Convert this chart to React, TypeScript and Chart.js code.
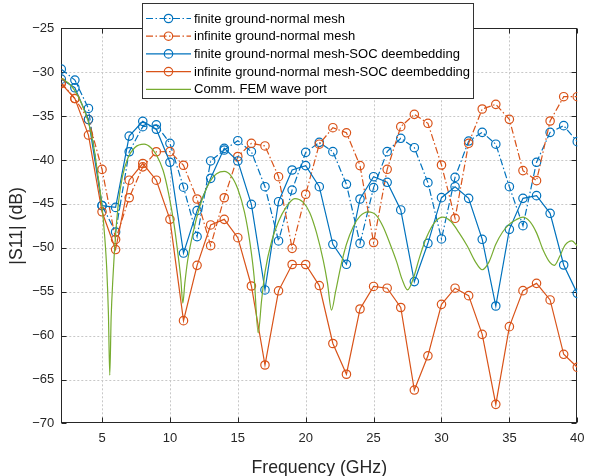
import { useEffect, useRef } from 'react';
import { Chart, registerables } from 'chart.js';

Chart.register(...registerables);

const freqs = [2, 3, 4, 5, 6, 7, 8, 9, 10, 11, 12, 13, 14, 15, 16, 17, 18, 19, 20, 21, 22, 23, 24, 25, 26, 27, 28, 29, 30, 31, 32, 33, 34, 35, 36, 37, 38, 39, 40];

const finiteNormal = [-29.65, -30.9, -34.13, -45.2, -48.2, -39.06, -36.2, -36.0, -38.1, -43.1, -48.73, -40.11, -38.86, -37.8, -39.05, -43.04, -49.22, -43.42, -39.13, -37.99, -39.05, -42.77, -49.49, -43.15, -39.05, -37.53, -38.6, -42.58, -48.99, -41.97, -37.84, -36.85, -38.2, -43.04, -47.48, -40.26, -36.85, -36.09, -37.91];

const infiniteNormal = [-31.2, -33.0, -35.4, -41.07, -49.05, -44.3, -40.78, -39.06, -39.05, -40.6, -44.44, -49.76, -44.3, -39.6, -38.1, -38.4, -41.9, -50.06, -43.9, -38.2, -36.32, -36.9, -40.64, -49.4, -41.06, -36.2, -34.8, -35.82, -40.57, -46.64, -38.1, -34.19, -33.66, -35.37, -41.21, -42.35, -35.56, -32.79, -32.79];

const finiteSOC = [-30.79, -31.77, -35.38, -45.2, -45.4, -37.28, -35.6, -36.5, -40.26, -50.6, -45.77, -42.09, -38.67, -40.11, -45.05, -54.8, -44.75, -41.14, -40.64, -43.04, -49.6, -51.88, -44.44, -41.9, -42.54, -45.69, -53.85, -49.49, -44.29, -43.04, -44.37, -49.03, -56.63, -47.9, -44.37, -44.06, -46.07, -51.96, -55.19];

const infiniteSOC = [-31.3, -33.0, -37.16, -45.9, -50.2, -42.3, -40.4, -42.3, -46.76, -58.3, -52.0, -47.4, -46.76, -48.85, -54.35, -63.35, -54.9, -51.9, -51.9, -54.3, -60.9, -64.4, -56.97, -54.4, -54.6, -56.8, -66.2, -62.3, -56.44, -54.6, -55.45, -59.86, -67.83, -58.98, -54.88, -54.05, -55.94, -62.13, -63.61];

const femFreq = [2.0, 2.5, 3.0, 3.5, 4.0, 4.4, 4.7, 5.0, 5.2, 5.35, 5.47, 5.57, 5.67, 5.8, 6.0, 6.2, 6.5, 6.9, 7.4, 8.1, 8.6, 9.0, 9.5, 9.9, 10.3, 10.6, 10.8, 10.95, 11.1, 11.3, 11.7, 12.2, 12.7, 13.2, 13.7, 14.0, 14.5, 15.0, 15.5, 15.9, 16.2, 16.5, 16.75, 17.0, 17.5, 18.0, 18.5, 19.2, 19.8, 20.3, 20.8, 21.3, 21.6, 21.9, 22.2, 22.6, 23.0, 23.5, 24.0, 24.6, 25.2, 25.7, 26.2, 26.7, 27.1, 27.5, 27.9, 28.4, 28.9, 29.5, 30.1, 30.7, 31.3, 31.9, 32.5, 33.0, 33.5, 34.0, 34.5, 35.0, 35.5, 36.0, 36.5, 37.0, 37.5, 38.0, 38.3, 38.7, 39.1, 39.6, 40.0];

const femS11 = [-30.7, -31.2, -32.1, -33.6, -35.7, -38.6, -41.8, -45.3, -48.8, -52.5, -57.5, -64.5, -58.0, -53.5, -48.5, -45.0, -41.9, -39.8, -38.6, -38.2, -38.6, -39.4, -41.2, -43.8, -47.3, -50.8, -53.5, -56.3, -54.0, -51.5, -48.3, -45.3, -43.2, -41.9, -41.35, -41.3, -41.8, -43.3, -46.0, -49.5, -53.3, -59.7, -56.0, -52.8, -49.2, -47.0, -45.5, -44.4, -44.8, -46.0, -48.3, -51.5, -54.0, -57.1, -55.0, -52.0, -49.6, -47.6, -46.4, -45.9, -46.3, -47.6, -49.5, -51.6, -53.6, -54.8, -53.6, -51.0, -48.8, -47.1, -46.5, -47.0, -48.3, -49.8, -51.6, -52.5, -51.6, -49.6, -48.2, -47.3, -46.8, -46.5, -47.0, -48.3, -50.3, -51.7, -52.0, -51.0, -49.7, -49.2, -49.8];

const xTicks = [5, 10, 15, 20, 25, 30, 35, 40];
const yTicks = [-70, -65, -60, -55, -50, -45, -40, -35, -30, -25];

const seriesLabels = [
  'finite ground-normal mesh',
  'infinite ground-normal mesh',
  'finite ground-normal mesh-SOC deembedding',
  'infinite ground-normal mesh-SOC deembedding',
  'Comm. FEM wave port',
];

const BLUE = '#0072BD';
const ORANGE = '#D95319';
const GREEN = '#77AC30';
const AXIS = '#262626';
const FONT = '"Liberation Sans", Arial, Helvetica, sans-serif';
const DASHDOT = [7, 2.5, 1.5, 2.5];

function markerSeries(label: string, values: number[], color: string, dashed: boolean, order: number) {
  return {
    label,
    data: freqs.map((f, i) => ({ x: f, y: values[i] })),
    borderColor: color,
    backgroundColor: color,
    borderWidth: 1.2,
    borderDash: dashed ? DASHDOT : [],
    pointStyle: 'circle',
    pointRadius: 4.2,
    pointBorderWidth: 1.2,
    pointBorderColor: color,
    pointBackgroundColor: 'rgba(0,0,0,0)',
    tension: 0,
    fill: false,
    order,
  };
}

const framePlugin = {
  id: 'matlabFrame',
  beforeDatasetsDraw(chart: any) {
    const { ctx, chartArea: a, scales } = chart;
    const x = scales.x;
    const y = scales.y;
    ctx.save();
    ctx.strokeStyle = '#c8c8c8';
    ctx.lineWidth = 1;
    ctx.setLineDash([2, 2]);
    for (const v of xTicks) {
      const px = Math.round(x.getPixelForValue(v)) + 0.5;
      if (px < a.right - 2) {
        ctx.beginPath();
        ctx.moveTo(px, a.top);
        ctx.lineTo(px, a.bottom);
        ctx.stroke();
      }
    }
    for (const v of yTicks) {
      const py = Math.round(y.getPixelForValue(v)) + 0.5;
      if (py > a.top + 2 && py < a.bottom - 2) {
        ctx.beginPath();
        ctx.moveTo(a.left, py);
        ctx.lineTo(a.right, py);
        ctx.stroke();
      }
    }
    ctx.setLineDash([]);
    ctx.strokeStyle = AXIS;
    const L = Math.round(a.left) + 0.5;
    const R = Math.round(a.right) - 0.5;
    const T = Math.round(a.top) + 0.5;
    const B = Math.round(a.bottom) - 0.5;
    ctx.strokeRect(L, T, R - L, B - T);
    const tl = 5;
    ctx.beginPath();
    for (const v of xTicks) {
      const px = Math.round(x.getPixelForValue(v)) + 0.5;
      ctx.moveTo(px, B);
      ctx.lineTo(px, B - tl);
      ctx.moveTo(px, T);
      ctx.lineTo(px, T + tl);
    }
    for (const v of yTicks) {
      const py = Math.round(y.getPixelForValue(v)) + 0.5;
      ctx.moveTo(L, py);
      ctx.lineTo(L + tl, py);
      ctx.moveTo(R, py);
      ctx.lineTo(R - tl, py);
    }
    ctx.stroke();
    ctx.restore();
  },
  afterDraw(chart: any) {
    const { ctx } = chart;
    const bx = 142.5, by = 3.5, bw = 331, bh = 95;
    ctx.save();
    ctx.fillStyle = '#ffffff';
    ctx.fillRect(bx, by, bw, bh);
    ctx.strokeStyle = '#333333';
    ctx.lineWidth = 1;
    ctx.strokeRect(bx, by, bw, bh);
    ctx.font = `13px ${FONT}`;
    ctx.textBaseline = 'middle';
    ctx.textAlign = 'left';
    chart.data.datasets.forEach((ds: any, i: number) => {
      const yy = 18.5 + i * 17.7;
      ctx.strokeStyle = ds.borderColor;
      ctx.lineWidth = ds.borderWidth;
      ctx.setLineDash(ds.borderDash || []);
      ctx.beginPath();
      ctx.moveTo(146, yy);
      ctx.lineTo(191, yy);
      ctx.stroke();
      ctx.setLineDash([]);
      if (ds.pointRadius > 0) {
        ctx.lineWidth = ds.pointBorderWidth;
        ctx.beginPath();
        ctx.arc(168.5, yy, ds.pointRadius, 0, Math.PI * 2);
        ctx.stroke();
      }
      ctx.fillStyle = '#000000';
      ctx.fillText(ds.label, 194, yy + 0.5);
    });
    ctx.restore();
  },
};

const minus = (v: any) => String(v).replace('-', '\u2212');

export default function App() {
  const ref = useRef<HTMLCanvasElement>(null);
  useEffect(() => {
    const canvas = ref.current;
    if (!canvas) return;
    const chart = new Chart(canvas, {
      type: 'line',
      data: {
        datasets: [
          markerSeries(seriesLabels[0], finiteNormal, BLUE, true, 5),
          markerSeries(seriesLabels[1], infiniteNormal, ORANGE, true, 4),
          markerSeries(seriesLabels[2], finiteSOC, BLUE, false, 3),
          markerSeries(seriesLabels[3], infiniteSOC, ORANGE, false, 2),
          {
            label: seriesLabels[4],
            data: femFreq.map((f, i) => ({ x: f, y: femS11[i] })),
            borderColor: GREEN,
            backgroundColor: GREEN,
            borderWidth: 1.2,
            borderDash: [],
            pointRadius: 0,
            cubicInterpolationMode: 'monotone',
            fill: false,
            order: 1,
          } as any,
        ],
      },
      options: {
        responsive: false,
        animation: false,
        devicePixelRatio: 1,
        events: [],
        layout: { padding: { top: 28.3, right: 9.3, left: 0, bottom: 0 } },
        plugins: { legend: { display: false }, tooltip: { enabled: false } },
        scales: {
          x: {
            type: 'linear',
            min: 2,
            max: 40,
            afterBuildTicks: (s: any) => {
              s.ticks = xTicks.map((v) => ({ value: v }));
            },
            afterFit: (s: any) => {
              s.height = 52.6;
            },
            grid: { display: false, drawTicks: false },
            border: { display: false },
            ticks: {
              padding: 7.5,
              color: AXIS,
              font: { family: FONT, size: 13 },
              maxRotation: 0,
              autoSkip: false,
              callback: (v: any) => minus(v),
            },
            title: {
              display: true,
              text: 'Frequency (GHz)',
              color: AXIS,
              font: { family: FONT, size: 17.7, lineHeight: 1 },
              padding: { top: 0, bottom: -0.5 },
            },
          },
          y: {
            type: 'linear',
            min: -70,
            max: -25,
            afterBuildTicks: (s: any) => {
              s.ticks = yTicks.map((v) => ({ value: v }));
            },
            afterFit: (s: any) => {
              s.width = 61.3;
            },
            grid: { display: false, drawTicks: false },
            border: { display: false },
            ticks: {
              padding: 7,
              color: AXIS,
              font: { family: FONT, size: 13 },
              autoSkip: false,
              callback: (v: any) => minus(v),
            },
            title: {
              display: true,
              text: '|S11| (dB)',
              color: AXIS,
              font: { family: FONT, size: 17.7, lineHeight: 1 },
              padding: { top: 8.5, bottom: 0 },
            },
          },
        },
      },
      plugins: [framePlugin],
    } as any);
    return () => chart.destroy();
  }, []);
  return (
    <div style={{ position: 'absolute', left: 0, top: 0, width: 592, height: 476, background: '#ffffff' }}>
      <canvas ref={ref} width={592} height={476} style={{ width: 592, height: 476, display: 'block' }} />
    </div>
  );
}
